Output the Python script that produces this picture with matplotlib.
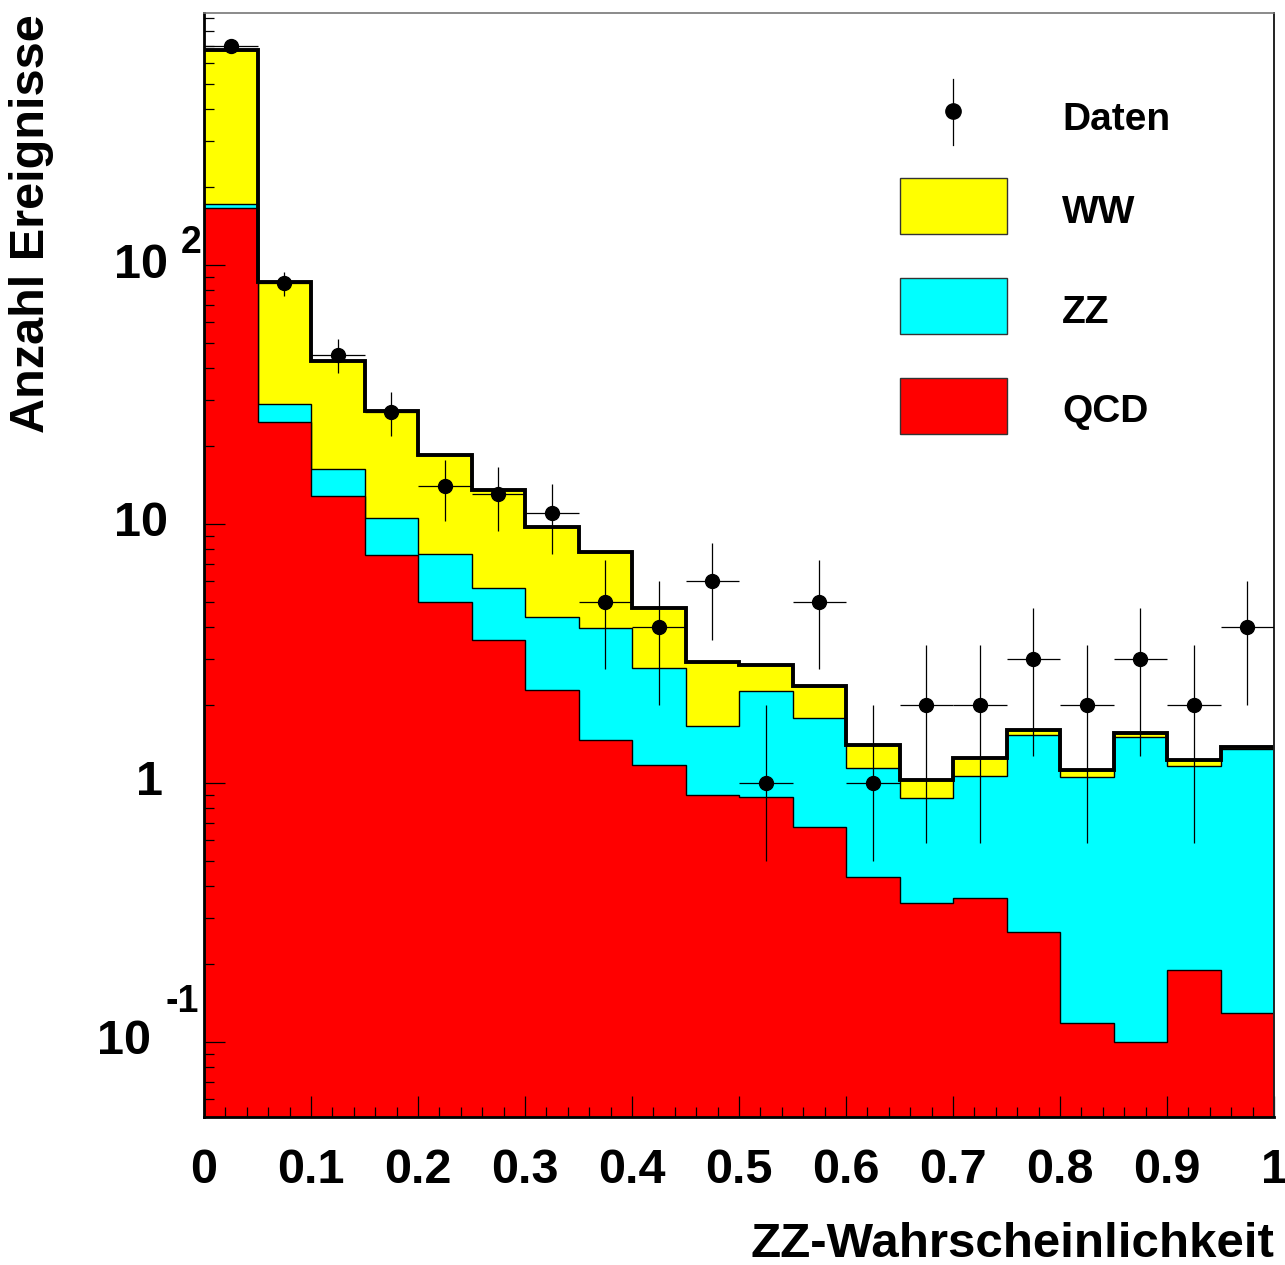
import numpy as np
import matplotlib.pyplot as plt
from matplotlib.patches import Rectangle
from matplotlib.lines import Line2D

plt.rcParams["font.family"] = ["Liberation Sans", "DejaVu Sans"]
plt.rcParams["font.weight"] = "bold"

W, H = 1285, 1265

# 20 bins in ZZ probability
edges = np.linspace(0.0, 1.0, 21)
centers = 0.5 * (edges[:-1] + edges[1:])

qcd = [166, 24.8, 12.8, 7.59, 5.0, 3.57, 2.29, 1.47, 1.17, 0.90,
       0.88, 0.676, 0.434, 0.344, 0.36, 0.266, 0.118, 0.10, 0.19, 0.129]
zz = [6.0, 4.2, 3.5, 2.91, 2.66, 2.09, 2.08, 2.50, 1.61, 0.76,
      1.39, 1.10, 0.71, 0.53, 0.70, 1.26, 0.94, 1.41, 0.97, 1.22]
ww = [506, 57, 26.3, 16.8, 10.8, 7.84, 5.36, 3.83, 1.96, 1.27,
      0.59, 0.59, 0.26, 0.155, 0.19, 0.07, 0.06, 0.05, 0.07, 0.03]
daten = [700, 85, 45, 27, 14, 13, 11, 5, 4, 6,
         1, 5, 1, 2, 2, 3, 2, 3, 2, 4]

YMIN, YMAX = 0.0513, 940.0


def px(x, y):
    """pixel position -> figure fraction"""
    return x / W, 1.0 - y / H


fig = plt.figure(figsize=(W / 100, H / 100), dpi=100)
x0, y0 = px(204, 1117)
x1, y1 = px(1274, 13)
ax = fig.add_axes([x0, y0, x1 - x0, y1 - y0])
ax.set_yscale("log")

qcd_a = np.array(qcd)
zz_top = qcd_a + np.array(zz)
ww_top = zz_top + np.array(ww)

base = 1e-3
ax.stairs(ww_top, edges, baseline=base, fill=True, facecolor="#ffff00",
          edgecolor="black", linewidth=1.0, zorder=1)
ax.stairs(zz_top, edges, baseline=base, fill=True, facecolor="#00ffff",
          edgecolor="black", linewidth=1.0, zorder=1.1)
ax.stairs(qcd_a, edges, baseline=base, fill=True, facecolor="#ff0000",
          edgecolor="black", linewidth=1.0, zorder=1.2)
ax.stairs(ww_top, edges, baseline=None, color="black", linewidth=2.8,
          zorder=1.5)

n = np.array(daten, dtype=float)
lower = np.maximum(n - np.sqrt(n), 0.5)
ax.errorbar(centers, n, xerr=0.025, yerr=[n - lower, np.sqrt(n)],
            fmt="o", color="black", markersize=10, elinewidth=0.9,
            capsize=0, zorder=3)

ax.set_xlim(0, 1)
ax.set_ylim(YMIN, YMAX)

# axis frame
ax.spines["left"].set_linewidth(2.0)
ax.spines["bottom"].set_linewidth(2.0)
ax.spines["top"].set_linewidth(1.2)
ax.spines["top"].set_color("#777777")
ax.spines["right"].set_linewidth(1.4)
ax.spines["right"].set_color("#222222")

ax.set_xticks(np.arange(0, 1.01, 0.1))
ax.set_xticks(np.arange(0, 1.001, 0.02), minor=True)
ax.set_xticklabels(["0", "0.1", "0.2", "0.3", "0.4", "0.5", "0.6",
                    "0.7", "0.8", "0.9", "1"])
ax.tick_params(axis="both", which="major", direction="in", length=15,
               width=0.9, top=False, right=False)
ax.tick_params(axis="both", which="minor", direction="in", length=7.5,
               width=0.9, top=False, right=False)
ax.tick_params(axis="x", which="major", labelsize=35, pad=22)

ax.set_yticks([0.1, 1, 10, 100])
minor_y = [m * 10.0 ** e for e in range(-2, 3) for m in range(2, 10)]
ax.set_yticks([v for v in minor_y if YMIN < v < YMAX], minor=True)
ax.set_yticklabels([])
ax.yaxis.set_minor_formatter(plt.NullFormatter())

# ROOT-style power-of-ten labels on the y axis
ylab = dict(xycoords=("axes fraction", "data"), textcoords="offset pixels",
            fontweight="bold", annotation_clip=False)
ax.annotate("10", (0, 100), (-36, 0), ha="right", va="center", fontsize=35, **ylab)
ax.annotate("2", (0, 100), (-3, 22), ha="right", va="center", fontsize=27, **ylab)
ax.annotate("10", (0, 10), (-36, 0), ha="right", va="center", fontsize=35, **ylab)
ax.annotate("1", (0, 1), (-41, 0), ha="right", va="center", fontsize=35, **ylab)
ax.annotate("10", (0, 0.1), (-53, 0), ha="right", va="center", fontsize=35, **ylab)
ax.annotate("-1", (0, 0.1), (-5, 40), ha="right", va="center", fontsize=27, **ylab)

fig.text(*px(1274, 1257), "ZZ-Wahrscheinlichkeit", ha="right",
         va="baseline", fontsize=35.5, fontweight="bold")
fig.text(*px(32, 14), "Anzahl Ereignisse", ha="center", va="top",
         rotation=90, fontsize=35, fontweight="bold")

# legend
mx, my = px(953, 111)
fig.add_artist(Line2D([mx, mx], [px(0, 79)[1], px(0, 145)[1]],
                      transform=fig.transFigure, color="black", lw=0.9))
fig.add_artist(Line2D([mx], [my], transform=fig.transFigure, marker="o",
                      color="black", markersize=11))
fig.text(*px(1062, 130), "Daten", ha="left", va="baseline", fontsize=28,
         fontweight="bold")

entries = [("WW", "#ffff00", 178, 223), ("ZZ", "#00ffff", 278, 323),
           ("QCD", "#ff0000", 378, 422)]
for name, colour, top, baseline in entries:
    bx, by = px(900, top + 56)
    bw = 107 / W
    bh = 56 / H
    fig.add_artist(Rectangle((bx, by), bw, bh, transform=fig.transFigure,
                             facecolor=colour, edgecolor="#333333", lw=1.0))
    fig.text(*px(1062, baseline), name, ha="left", va="baseline",
             fontsize=28, fontweight="bold")

fig.savefig("out.png", dpi=100)
